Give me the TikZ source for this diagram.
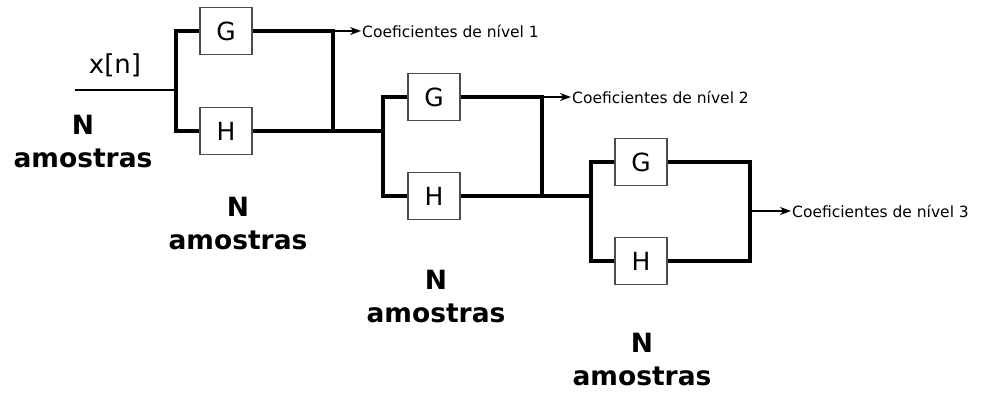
\documentclass[tikz,border=0pt]{standalone}
\usepackage{fontspec}
\setmainfont{DejaVu Sans}
\usepackage{tikz}
\usetikzlibrary{arrows.meta,positioning}
\tikzstyle{filt}=[draw=black!70,line width=1.1pt,fill=white,minimum width=52pt,minimum height=47pt,inner sep=0pt,font=\fontsize{25}{25}\selectfont]
\tikzstyle{wire}=[line width=3.2pt]
\tikzstyle{seta}=[line width=2pt,-{Stealth[length=11pt,width=8pt]}]
\tikzstyle{coef}=[anchor=west,inner sep=1pt,font=\fontsize{15.5}{16}\selectfont]
\tikzstyle{amostras}=[align=center,inner sep=0pt,font=\bfseries\fontsize{26.5}{33}\selectfont]

\begin{document}
\begin{tikzpicture}[x=1pt,y=-1pt]
	\useasboundingbox (0,0) rectangle (982,392);
	% nivel 1
	\coordinate (in) at (75,90);
	\coordinate (s1) at (176,90);
	\node[filt] (g1) at (226,31) {G};
	\node[filt] (h1) at (226,131) {H};
	\coordinate (j1) at (333,31);
	\node[coef] (c1) at (361,31) {Coeficientes de nível 1};
	\node[font=\fontsize{26}{26}\selectfont] (xn) at (115,65) {x[n]};
	\draw[line width=2pt] (in) -- (s1);
	\draw[wire] (g1.west) -| (s1) |- (h1.west);
	\draw[wire] (g1.east) -- (j1) -- (j1 |- h1);
	\draw[seta] (j1) -- (c1.west);
	% nivel 2
	\coordinate (s2) at (383,131);
	\node[filt] (g2) at (434,97) {G};
	\node[filt] (h2) at (434,196) {H};
	\coordinate (j2) at (542,97);
	\node[coef] (c2) at (571,97) {Coeficientes de nível 2};
	\draw[wire] (h1.east) -- (s2);
	\draw[wire] (g2.west) -| (s2) |- (h2.west);
	\draw[wire] (g2.east) -- (j2) -- (j2 |- h2);
	\draw[seta] (j2) -- (c2.west);
	% nivel 3
	\coordinate (s3) at (591,196);
	\node[filt] (g3) at (641,162) {G};
	\node[filt] (h3) at (641,261) {H};
	\coordinate (j3) at (750,211);
	\node[coef] (c3) at (791,211) {Coeficientes de nível 3};
	\draw[wire] (h2.east) -- (s3);
	\draw[wire] (g3.west) -| (s3) |- (h3.west);
	\draw[wire] (g3.east) -| (j3) |- (h3.east);
	\draw[seta] (j3) -- (c3.west);
	% amostras
	\node[amostras] (n1) at (83,142) {N\\amostras};
	\node[amostras] (n2) at (238,224) {N\\amostras};
	\node[amostras] (n3) at (436,297) {N\\amostras};
	\node[amostras] (n4) at (642,360) {N\\amostras};
\end{tikzpicture}
\end{document}
